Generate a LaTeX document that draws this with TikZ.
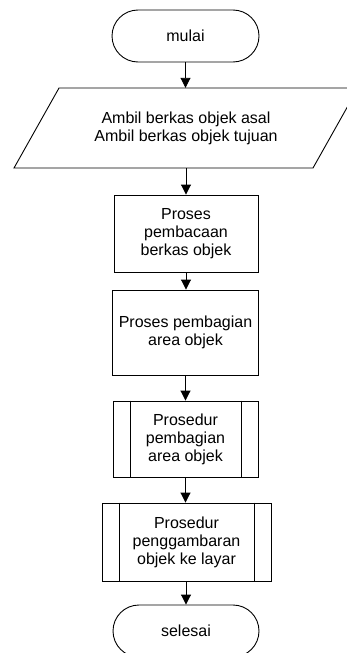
\documentclass[tikz,border=0pt]{standalone}
\usepackage{fontspec}
\setmainfont{Liberation Sans}
\usetikzlibrary{arrows.meta}
\tikzset{
  txt/.style={font=\fontsize{16}{18}\selectfont, align=center, inner sep=0pt},
  term/.style={txt, draw, line width=0.9pt, rounded corners=26pt, minimum height=52pt},
  procbox/.style={txt, draw, line width=0.9pt},
  conn/.style={line width=0.9pt, -{Triangle[length=10pt,width=10pt]}},
  edge/.style={line width=0.9pt}
}
\begin{document}
\begin{tikzpicture}[x=1pt,y=-1pt]
\useasboundingbox (0,0) rectangle (347,653);
\clip (0,0) rectangle (347,653);
\node[term, minimum width=147pt] (mulai) at (185.5,36) {mulai};
\node[txt, minimum width=200pt, minimum height=80pt] (para) at (186,128) {Ambil berkas objek asal\\Ambil berkas objek tujuan};
\draw[edge] (14,168) -- (59,88) -- (358,88) -- (313,168) -- cycle;
\node[procbox, minimum width=144pt, minimum height=77pt] (b1) at (186,233.5) {Proses\\pembacaan\\berkas objek};
\node[procbox, minimum width=146pt, minimum height=85pt] (b2) at (185.5,332.5) {Proses pembagian\\area objek};
\node[procbox, minimum width=145pt, minimum height=76pt] (b3) at (185.5,439) {Prosedur\\pembagian\\area objek};
\draw[edge] ([xshift=17.5pt]b3.north west) -- ([xshift=17.5pt]b3.south west);
\draw[edge] ([xshift=-17.5pt]b3.north east) -- ([xshift=-17.5pt]b3.south east);
\node[procbox, minimum width=169pt, minimum height=78pt] (b4) at (186.5,542) {Prosedur\\penggambaran\\objek ke layar};
\draw[edge] ([xshift=17.5pt]b4.north west) -- ([xshift=17.5pt]b4.south west);
\draw[edge] ([xshift=-17.5pt]b4.north east) -- ([xshift=-17.5pt]b4.south east);
\node[term, minimum width=146pt] (selesai) at (186,631) {selesai};
\draw[conn] (mulai.south) -- (mulai.south |- para.north);
\draw[conn] (b1.north |- para.south) -- (b1.north);
\draw[conn] (b1.south) -- (b1.south |- b2.north);
\draw[conn] (b2.south) -- (b2.south |- b3.north);
\draw[conn] (b3.south) -- (b3.south |- b4.north);
\draw[conn] (selesai.north |- b4.south) -- (selesai.north);
\end{tikzpicture}
\end{document}
